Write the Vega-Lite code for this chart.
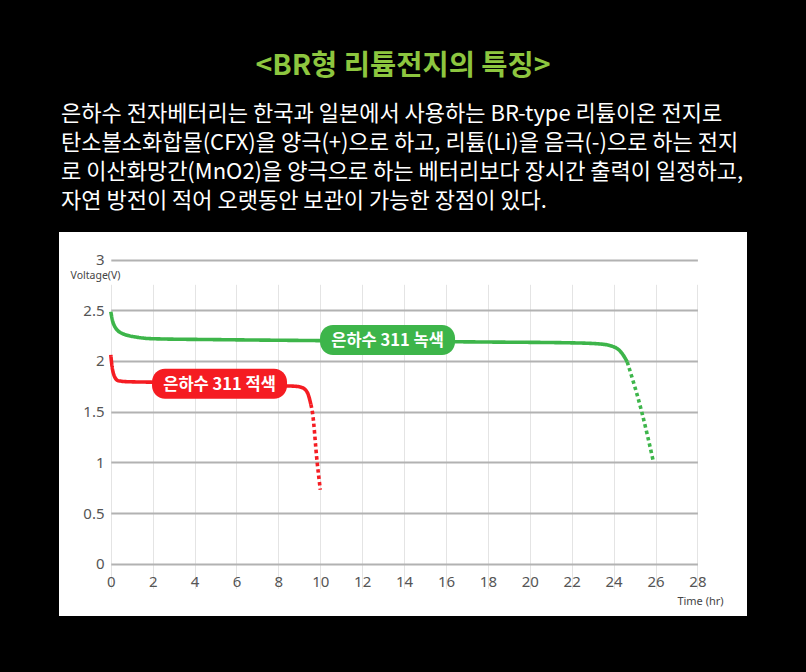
{
  "$schema": "https://vega.github.io/schema/vega-lite/v6.json",
  "background": "#000000",
  "padding": {"left": 59, "top": 52, "right": 59, "bottom": 56},
  "title": {
    "text": "<BR형 리튬전지의 특징>",
    "anchor": "middle",
    "color": "#8dc63f",
    "font": "Noto Sans CJK KR",
    "fontSize": 28.5,
    "fontWeight": "bold",
    "offset": 22
  },
  "datasets": {
    "lines": [
      {"series": "은하수 311 녹색", "part": "solid", "hr": 0, "v": 2.485},
      {"series": "은하수 311 녹색", "part": "solid", "hr": 0.12, "v": 2.37},
      {"series": "은하수 311 녹색", "part": "solid", "hr": 0.5, "v": 2.275},
      {"series": "은하수 311 녹색", "part": "solid", "hr": 1.3, "v": 2.232},
      {"series": "은하수 311 녹색", "part": "solid", "hr": 2.1, "v": 2.218},
      {"series": "은하수 311 녹색", "part": "solid", "hr": 5, "v": 2.21},
      {"series": "은하수 311 녹색", "part": "solid", "hr": 10, "v": 2.2},
      {"series": "은하수 311 녹색", "part": "solid", "hr": 14, "v": 2.193},
      {"series": "은하수 311 녹색", "part": "solid", "hr": 18, "v": 2.186},
      {"series": "은하수 311 녹색", "part": "solid", "hr": 22, "v": 2.178},
      {"series": "은하수 311 녹색", "part": "solid", "hr": 23.3, "v": 2.168},
      {"series": "은하수 311 녹색", "part": "solid", "hr": 24.0, "v": 2.14},
      {"series": "은하수 311 녹색", "part": "solid", "hr": 24.4, "v": 2.075},
      {"series": "은하수 311 녹색", "part": "solid", "hr": 24.65, "v": 1.99},
      {"series": "은하수 311 녹색", "part": "dotted", "hr": 24.65, "v": 1.99},
      {"series": "은하수 311 녹색", "part": "dotted", "hr": 25.34, "v": 1.5},
      {"series": "은하수 311 녹색", "part": "dotted", "hr": 25.9, "v": 1.006},
      {"series": "은하수 311 적색", "part": "solid", "hr": 0, "v": 2.06},
      {"series": "은하수 311 적색", "part": "solid", "hr": 0.05, "v": 1.96},
      {"series": "은하수 311 적색", "part": "solid", "hr": 0.15, "v": 1.86},
      {"series": "은하수 311 적색", "part": "solid", "hr": 0.35, "v": 1.805},
      {"series": "은하수 311 적색", "part": "solid", "hr": 0.8, "v": 1.795},
      {"series": "은하수 311 적색", "part": "solid", "hr": 2, "v": 1.79},
      {"series": "은하수 311 적색", "part": "solid", "hr": 5, "v": 1.772},
      {"series": "은하수 311 적색", "part": "solid", "hr": 8, "v": 1.755},
      {"series": "은하수 311 적색", "part": "solid", "hr": 8.8, "v": 1.75},
      {"series": "은하수 311 적색", "part": "solid", "hr": 9.15, "v": 1.735},
      {"series": "은하수 311 적색", "part": "solid", "hr": 9.4, "v": 1.68},
      {"series": "은하수 311 적색", "part": "solid", "hr": 9.55, "v": 1.57},
      {"series": "은하수 311 적색", "part": "dotted", "hr": 9.55, "v": 1.57},
      {"series": "은하수 311 적색", "part": "dotted", "hr": 9.62, "v": 1.5},
      {"series": "은하수 311 적색", "part": "dotted", "hr": 9.85, "v": 1.0},
      {"series": "은하수 311 적색", "part": "dotted", "hr": 10.0, "v": 0.73}
    ],
    "labels": [
      {"series": "은하수 311 적색", "hr": 5.19, "v": 1.774},
      {"series": "은하수 311 녹색", "hr": 13.21, "v": 2.206}
    ]
  },
  "vconcat": [
    {
      "width": 688,
      "height": 384,
      "title": {
        "text": [
          "은하수 전자베터리는 한국과 일본에서 사용하는 BR-type 리튬이온 전지로",
          "탄소불소화합물(CFX)을 양극(+)으로 하고, 리튬(Li)을 음극(-)으로 하는 전지",
          "로 이산화망간(MnO2)을 양극으로 하는 베터리보다 장시간 출력이 일정하고,",
          "자연 방전이 적어 오랫동안 보관이 가능한 장점이 있다."
        ],
        "anchor": "start",
        "color": "#ffffff",
        "font": "Noto Sans CJK KR",
        "fontSize": 22,
        "fontWeight": "normal",
        "lineHeight": 29.3,
        "offset": 18.5,
        "dx": 2
      },
      "encoding": {
        "x": {
          "field": "hr",
          "type": "quantitative",
          "scale": {"domain": [0, 28], "range": [51.8, 638.4], "nice": false, "zero": false},
          "axis": {
            "orient": "bottom",
            "offset": -52,
            "values": [0, 2, 4, 6, 8, 10, 12, 14, 16, 18, 20, 22, 24, 26, 28],
            "domain": false,
            "ticks": false,
            "grid": true,
            "gridColor": "#e4e4e4",
            "gridWidth": 1,
            "labelFlush": false,
            "labelPadding": 10,
            "labelFontSize": 15,
            "labelColor": "#555555",
            "labelFont": "Noto Sans",
            "title": "Time (hr)",
            "titleX": 641,
            "titleY": 37,
            "titleAlign": "center",
            "titleBaseline": "middle",
            "titleFont": "Noto Sans",
            "titleFontSize": 11,
            "titleFontWeight": "normal",
            "titleColor": "#444444"
          }
        },
        "y": {
          "field": "v",
          "type": "quantitative",
          "scale": {"domain": [0, 3], "range": [331.7, 27.5], "nice": false, "zero": false},
          "axis": {
            "orient": "left",
            "offset": -48,
            "values": [0, 0.5, 1, 1.5, 2, 2.5, 3],
            "labelExpr": "'' + datum.value",
            "domain": false,
            "ticks": false,
            "grid": true,
            "gridColor": "#b2b2b2",
            "gridWidth": 1.8,
            "labelFlush": false,
            "labelPadding": 3,
            "labelFontSize": 15,
            "labelColor": "#555555",
            "labelFont": "Noto Sans",
            "title": "Voltage(V)",
            "titleAngle": 0,
            "titleX": -12,
            "titleY": 43,
            "titleAlign": "center",
            "titleBaseline": "middle",
            "titleFont": "Noto Sans",
            "titleFontSize": 10.5,
            "titleFontWeight": "normal",
            "titleColor": "#444444"
          }
        }
      },
      "layer": [
        {
          "data": {"name": "lines"},
          "mark": {"type": "line", "strokeWidth": 3.6, "interpolate": "monotone", "strokeCap": "butt"},
          "encoding": {
            "color": {
              "field": "series",
              "type": "nominal",
              "scale": {"domain": ["은하수 311 녹색", "은하수 311 적색"], "range": ["#3db54a", "#f51c22"]},
              "legend": null
            },
            "strokeDash": {
              "field": "part",
              "type": "nominal",
              "scale": {"domain": ["solid", "dotted"], "range": [[1, 0], [3.5, 3]]},
              "legend": null
            }
          }
        },
        {
          "data": {"name": "labels"},
          "mark": {"type": "rect", "width": 135, "height": 30, "cornerRadius": 13},
          "encoding": {
            "color": {"field": "series", "type": "nominal", "legend": null}
          }
        },
        {
          "data": {"name": "labels"},
          "mark": {"type": "text", "font": "Noto Sans CJK KR", "fontSize": 16.5, "fontWeight": "bold", "color": "#ffffff", "align": "center", "baseline": "middle", "dy": 1},
          "encoding": {
            "text": {"field": "series", "type": "nominal"}
          }
        }
      ]
    }
  ],
  "config": {
    "view": {"fill": "#ffffff", "stroke": null}
  }
}
